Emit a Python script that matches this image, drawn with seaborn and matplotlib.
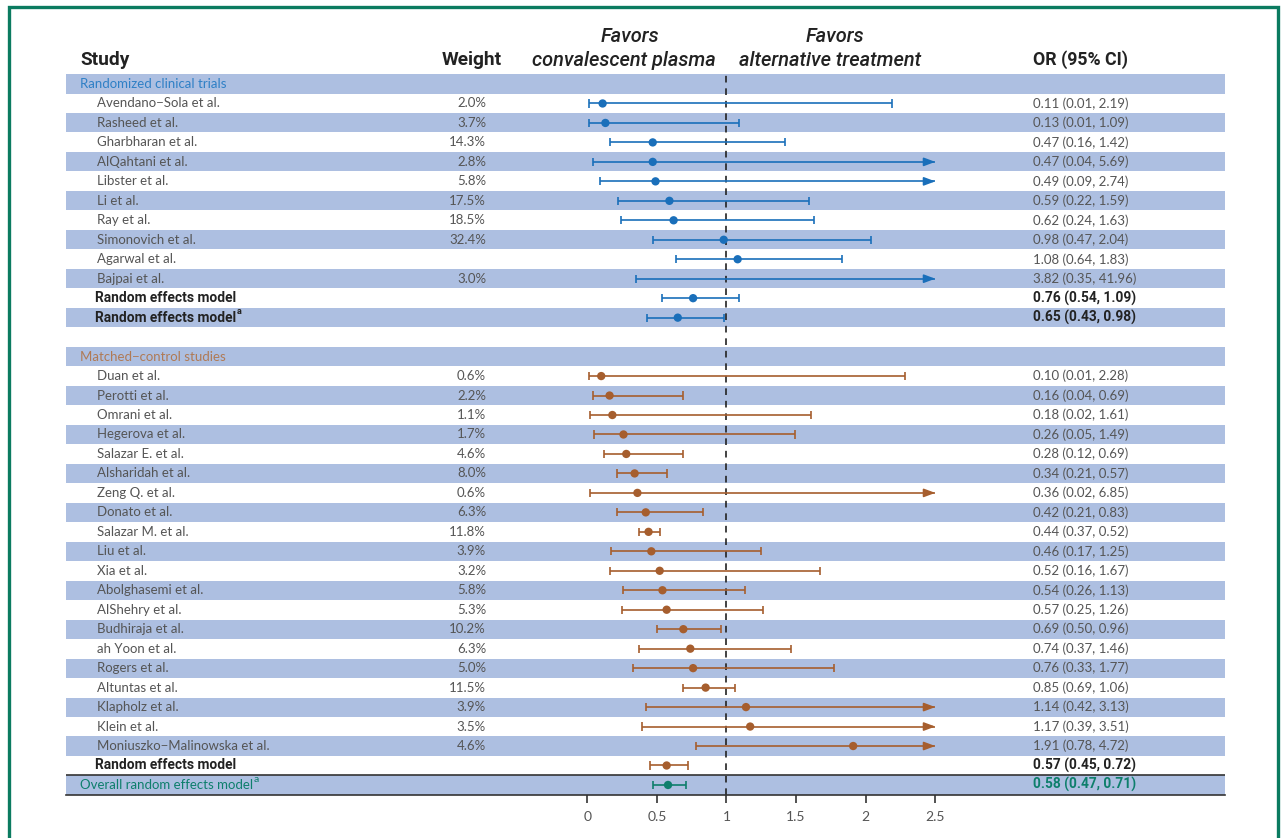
import numpy as np
import pandas as pd
import matplotlib
matplotlib.use("Agg")
import matplotlib.pyplot as plt
import matplotlib.transforms as mtransforms
from matplotlib.patches import Rectangle
import seaborn as sns

# ---------------- data ----------------
rct_names = ["Avendano\u2212Sola et al.", "Rasheed et al.", "Gharbharan et al.", "AlQahtani et al.",
             "Libster et al.", "Li et al.", "Ray et al.", "Simonovich et al.", "Agarwal et al.", "Bajpai et al."]
rct_weights = ["2.0%", "3.7%", "14.3%", "2.8%", "5.8%", "17.5%", "18.5%", "32.4%", "", "3.0%"]
rct_or = [0.11, 0.13, 0.47, 0.47, 0.49, 0.59, 0.62, 0.98, 1.08, 3.82]
rct_lo = [0.01, 0.01, 0.16, 0.04, 0.09, 0.22, 0.24, 0.47, 0.64, 0.35]
rct_hi = [2.19, 1.09, 1.42, 5.69, 2.74, 1.59, 1.63, 2.04, 1.83, 41.96]
rct_re_labels = ["Random effects model", "Random effects model"]
rct_re_or = [0.76, 0.65]
rct_re_lo = [0.54, 0.43]
rct_re_hi = [1.09, 0.98]

mc_names = ["Duan et al.", "Perotti et al.", "Omrani et al.", "Hegerova et al.", "Salazar E. et al.",
            "Alsharidah et al.", "Zeng Q. et al.", "Donato et al.", "Salazar M. et al.", "Liu et al.",
            "Xia et al.", "Abolghasemi et al.", "AlShehry et al.", "Budhiraja et al.", "ah Yoon et al.",
            "Rogers et al.", "Altuntas et al.", "Klapholz et al.", "Klein et al.",
            "Moniuszko\u2212Malinowska et al."]
mc_weights = ["0.6%", "2.2%", "1.1%", "1.7%", "4.6%", "8.0%", "0.6%", "6.3%", "11.8%", "3.9%",
              "3.2%", "5.8%", "5.3%", "10.2%", "6.3%", "5.0%", "11.5%", "3.9%", "3.5%", "4.6%"]
mc_or = [0.10, 0.16, 0.18, 0.26, 0.28, 0.34, 0.36, 0.42, 0.44, 0.46,
         0.52, 0.54, 0.57, 0.69, 0.74, 0.76, 0.85, 1.14, 1.17, 1.91]
mc_lo = [0.01, 0.04, 0.02, 0.05, 0.12, 0.21, 0.02, 0.21, 0.37, 0.17,
         0.16, 0.26, 0.25, 0.50, 0.37, 0.33, 0.69, 0.42, 0.39, 0.78]
mc_hi = [2.28, 0.69, 1.61, 1.49, 0.69, 0.57, 6.85, 0.83, 0.52, 1.25,
         1.67, 1.13, 1.26, 0.96, 1.46, 1.77, 1.06, 3.13, 3.51, 4.72]
mc_re_or = [0.57]
mc_re_lo = [0.45]
mc_re_hi = [0.72]

overall_or = [0.58]
overall_lo = [0.47]
overall_hi = [0.71]

x_ticks = [0, 0.5, 1, 1.5, 2, 2.5]
x_tick_labels = ["0", "0.5", "1", "1.5", "2", "2.5"]
x_max = 2.5

# ---------------- styling ----------------
sns.set_theme(style="white")
plt.rcParams['font.family'] = ['Lato', 'DejaVu Sans']

BLUE = "#1a6fba"
BROWN = "#a65e2e"
TEAL = "#0e7f6c"
BAND = "#adbfe1"
TXT = "#555555"
DARK = "#222222"
BODY = ['Lato', 'DejaVu Sans']
HEAD = ['Roboto', 'DejaVu Sans']

# ---------------- build rows ----------------
rows = []
rows.append(dict(kind="group", label="Randomized clinical trials", color="#2f80c6"))
for n, w, o, l, h in zip(rct_names, rct_weights, rct_or, rct_lo, rct_hi):
    rows.append(dict(kind="study", label=n, weight=w, or_=o, lo=l, hi=h, color=BLUE))
for i, (o, l, h) in enumerate(zip(rct_re_or, rct_re_lo, rct_re_hi)):
    rows.append(dict(kind="re", label=rct_re_labels[i], sup=(i == 1), or_=o, lo=l, hi=h, color=BLUE))
rows.append(dict(kind="blank"))
rows.append(dict(kind="group", label="Matched\u2212control studies", color="#b07a55"))
for n, w, o, l, h in zip(mc_names, mc_weights, mc_or, mc_lo, mc_hi):
    rows.append(dict(kind="study", label=n, weight=w, or_=o, lo=l, hi=h, color=BROWN))
for o, l, h in zip(mc_re_or, mc_re_lo, mc_re_hi):
    rows.append(dict(kind="re", label="Random effects model", sup=False, or_=o, lo=l, hi=h, color=BROWN))
for o, l, h in zip(overall_or, overall_lo, overall_hi):
    rows.append(dict(kind="overall", label="Overall random effects model", sup=True, or_=o, lo=l, hi=h, color=TEAL))

n_rows = len(rows)
records = []
for i, r in enumerate(rows):
    if "or_" in r:
        records.append(dict(row=i, or_=r["or_"], lo=r["lo"], hi=r["hi"], color=r["color"], kind=r["kind"]))
df = pd.DataFrame(records)

# ---------------- figure ----------------
W, H = 1286, 838
fig = plt.figure(figsize=(W / 100, H / 100), dpi=100)
px0 = 587.3   # pixel of OR=0
ppu = 139.2   # pixels per unit
ax_l, ax_r = 66, 1225
top_px, bot_px = 74.26, 794.7
ax = fig.add_axes([ax_l / W, 1 - bot_px / H, (ax_r - ax_l) / W, (bot_px - top_px) / H])
ax.set_xlim((ax_l - px0) / ppu, (ax_r - px0) / ppu)
ax.set_ylim(n_rows - 0.5, -0.5)
ax.set_facecolor("none")

# bands
for i in range(n_rows):
    if i % 2 == 0:
        ax.axhspan(i - 0.49, i + 0.49, color=BAND, lw=0, zorder=0)

# reference line
ax.axvline(1, color="#222222", lw=1.2, ls=(0, (4, 3.5)), zorder=1)

# CIs
cap = 0.21
for _, r in df.iterrows():
    hi_c = min(r["hi"], x_max)
    ax.hlines(r["row"], r["lo"], hi_c, color=r["color"], lw=1.2, zorder=2)
    ax.vlines(r["lo"], r["row"] - cap, r["row"] + cap, color=r["color"], lw=1.2, zorder=2)
    if r["hi"] <= x_max:
        ax.vlines(r["hi"], r["row"] - cap, r["row"] + cap, color=r["color"], lw=1.2, zorder=2)
    else:
        ax.annotate("", xy=(x_max, r["row"]), xytext=(x_max - 0.08, r["row"]),
                    arrowprops=dict(arrowstyle="-|>,head_length=0.75,head_width=0.28",
                                    color=r["color"], lw=1.2, shrinkA=0, shrinkB=0,
                                    mutation_scale=9), zorder=3)

# points (seaborn)
pts = df[df["or_"] <= x_max]
sns.scatterplot(data=pts, x="or_", y="row", hue="color", palette={c: c for c in pts["color"].unique()},
                s=36, linewidth=0, legend=False, ax=ax, zorder=4)
ax.set_xlabel("")
ax.set_ylabel("")
ax.set_ylim(n_rows - 0.5, -0.5)

# axes styling
for s in ["top", "left", "right"]:
    ax.spines[s].set_visible(False)
ax.spines["bottom"].set_color("#333333")
ax.spines["bottom"].set_linewidth(1.2)
ax.set_yticks([])
ax.set_xticks(x_ticks)
ax.set_xticklabels(x_tick_labels, fontfamily=BODY, fontsize=10, color="#555555")
ax.tick_params(axis="x", direction="out", length=6, width=1.2, color="#333333", pad=6, bottom=True)
ax.axhline(n_rows - 1.5, color="#333333", lw=1.2, zorder=1)

# texts
trans = mtransforms.blended_transform_factory(fig.transFigure, ax.transData)
X_NAME, X_GROUP, X_RE, X_W, X_OR = 97 / W, 80 / W, 95 / W, 486 / W, 1033 / W
for i, r in enumerate(rows):
    k = r["kind"]
    if k == "group":
        ax.text(X_GROUP, i, r["label"], transform=trans, fontsize=9.5, color=r["color"],
                va="center", ha="left", fontfamily=BODY)
    elif k == "study":
        ax.text(X_NAME, i, r["label"], transform=trans, fontsize=9.5, color=TXT,
                va="center", ha="left", fontfamily=BODY)
        ax.text(X_W, i, r["weight"], transform=trans, fontsize=9.5, color=TXT,
                va="center", ha="right", fontfamily=BODY)
        ax.text(X_OR, i, f"{r['or_']:.2f} ({r['lo']:.2f}, {r['hi']:.2f})", transform=trans,
                fontsize=9.5, color=TXT, va="center", ha="left", fontfamily=BODY)
    elif k == "re":
        t = ax.text(X_RE, i, r["label"], transform=trans, fontsize=9.9, color=DARK,
                    va="center", ha="left", fontfamily=HEAD, fontweight="bold")
        if r["sup"]:
            ax.annotate("a", xy=(1.005, 0.95), xycoords=t, fontsize=6.5, color=DARK,
                        va="center", ha="left", fontfamily=HEAD, fontweight="bold")
        ax.text(X_OR, i, f"{r['or_']:.2f} ({r['lo']:.2f}, {r['hi']:.2f})", transform=trans,
                fontsize=9.9, color=DARK, va="center", ha="left", fontfamily=HEAD, fontweight="bold")
    elif k == "overall":
        t = ax.text(X_GROUP, i, r["label"], transform=trans, fontsize=9.5, color=TEAL,
                    va="center", ha="left", fontfamily=BODY)
        ax.annotate("a", xy=(1.0, 0.95), xycoords=t, fontsize=7.5, color=TEAL,
                    va="center", ha="left", fontfamily=BODY)
        ax.text(X_OR, i, f"{r['or_']:.2f} ({r['lo']:.2f}, {r['hi']:.2f})", transform=trans,
                fontsize=9.9, color=TEAL, va="center", ha="left", fontfamily=HEAD, fontweight="bold")

# headers
hy = 1 - 60 / H
fig.text(80 / W, hy, "Study", fontsize=13.8, fontweight="bold", color=DARK, fontfamily=HEAD,
         va="center", ha="left")
fig.text(472 / W, hy, "Weight", fontsize=13.8, fontweight="bold", color=DARK, fontfamily=HEAD,
         va="center", ha="center")
fig.text(1033 / W, hy, "OR (95% CI)", fontsize=12.8, fontweight="bold", color=DARK, fontfamily=HEAD,
         va="center", ha="left")
fav_kw = dict(fontsize=14.4, style="italic", fontweight="medium", color=DARK, fontfamily=HEAD,
              va="center", ha="center")
fig.text(630 / W, 1 - 36 / H, "Favors", **fav_kw)
fig.text(624 / W, hy, "convalescent plasma", **fav_kw)
fig.text(835 / W, 1 - 36 / H, "Favors", **fav_kw)
fig.text(830 / W, hy, "alternative treatment", **fav_kw)

# frame
fig.patches.append(Rectangle((8.5 / W, -0.05), (1277.5 - 8.5) / W, 1.05 - 7.5 / H,
                             transform=fig.transFigure, fill=False, edgecolor="#0b7b60",
                             lw=2.4, zorder=10))

fig.savefig("out.png", dpi=100)
